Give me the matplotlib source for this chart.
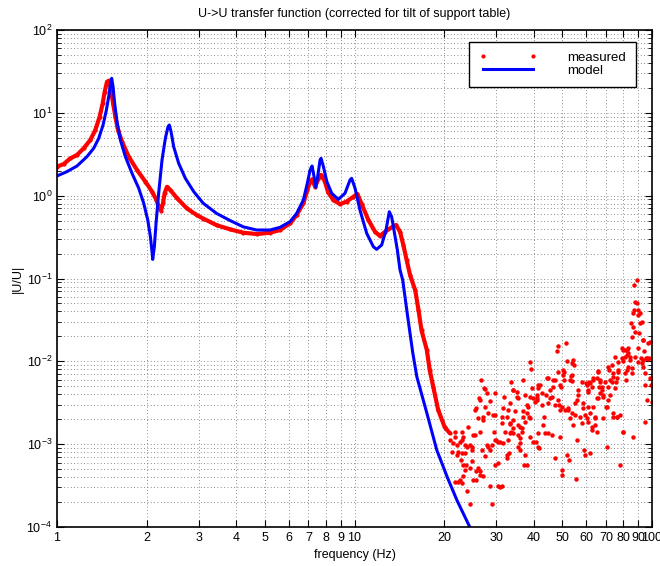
import numpy as np
import matplotlib
matplotlib.use("Agg")
import matplotlib.pyplot as plt
from matplotlib.ticker import FixedLocator, FixedFormatter, LogLocator, NullFormatter

plt.rcParams['font.family'] = ['Liberation Sans', 'DejaVu Sans']
plt.rcParams['mathtext.fontset'] = 'custom'
plt.rcParams['mathtext.rm'] = 'Liberation Sans'
plt.rcParams['mathtext.it'] = 'Liberation Sans:italic'
plt.rcParams['font.size'] = 9

# measured response, low-frequency part (dense, reads as a curve)
meas_freq = [1.0, 1.053, 1.109, 1.167, 1.229, 1.294, 1.345, 1.391, 1.424, 1.446,
             1.473, 1.50, 1.519, 1.543, 1.571, 1.603, 1.654, 1.741, 1.857, 1.981,
             2.086, 2.157, 2.196, 2.236, 2.271, 2.30, 2.343, 2.404, 2.532, 2.735,
             2.955, 3.10, 3.44, 3.82, 4.23, 4.69, 5.20, 5.62, 6.07, 6.39, 6.73,
             6.94, 7.09, 7.20, 7.37, 7.54, 7.72, 7.95, 8.15, 8.49, 8.94, 9.41,
             9.91, 10.22, 10.57, 11.13, 11.72, 12.18, 12.66, 13.33, 13.79, 14.22,
             14.59, 14.97, 15.37, 16.0, 16.4, 16.8, 17.5, 17.9, 18.4, 19.1, 20.1, 20.9]
meas_mag = [2.24, 2.41, 2.82, 3.10, 3.73, 4.70, 6.20, 8.99, 13.0, 18.0,
            23.8, 24.5, 18.9, 13.0, 8.99, 6.20, 4.49, 2.96, 2.04, 1.48,
            1.12, 0.89, 0.74, 0.66, 0.81, 1.07, 1.28, 1.17, 0.93, 0.70,
            0.58, 0.53, 0.44, 0.392, 0.357, 0.344, 0.357, 0.385, 0.463, 0.584, 0.81,
            1.17, 1.48, 1.57, 1.28, 1.57, 1.78, 1.48, 1.1, 0.886, 0.79, 0.85,
            0.97, 1.05, 0.79, 0.51, 0.367, 0.326, 0.367, 0.415, 0.442, 0.367,
            0.254, 0.167, 0.110, 0.072, 0.042, 0.0236, 0.0137, 0.0078, 0.0049, 0.0026, 0.0016, 0.00136]

# measured response above ~21 Hz (noise floor, scattered)
meas_scatter = [
    (21.8, 0.00141), (22.05, 0.00097), (22.3, 0.00081), (22.6, 0.00107), (22.8, 0.00064),
    (22.9, 0.00078), (23.2, 0.00123), (23.5, 0.00078), (23.7, 0.00056), (23.8, 0.00093),
    (24.1, 0.00163), (24.4, 0.00097), (24.4, 0.00051), (24.8, 0.00093), (21.8, 0.00035),
    (22.6, 0.00037), (22.9, 0.00034), (23.8, 0.00027), (24.4, 0.00019), (24.8, 0.00062),
    (25.1, 0.00037), (25.4, 0.00129), (25.7, 0.00037), (26.1, 0.00051), (26.4, 0.00047),
    (26.8, 0.00085), (27.1, 0.00041), (25.7, 0.00271), (26.1, 0.00205), (26.2, 0.00358),
    (26.6, 0.0060), (27.1, 0.00215), (27.2, 0.00473), (27.5, 0.00284), (27.8, 0.00097),
    (28.2, 0.00093), (28.5, 0.00031), (28.9, 0.00019), (28.9, 0.00097), (29.3, 0.00225),
    (29.5, 0.00141), (29.7, 0.00056), (30.0, 0.00112), (30.4, 0.00059), (30.4, 0.00031),
    (30.8, 0.00107), (31.2, 0.00031), (31.2, 0.00215), (31.6, 0.00102), (31.8, 0.00368),
    (32.0, 0.00141), (32.5, 0.00074), (32.9, 0.00259), (33.3, 0.00175), (33.7, 0.00141),
    (34.0, 0.00451), (34.2, 0.00135), (34.6, 0.00248), (35.1, 0.00375), (35.5, 0.0017),
    (36.0, 0.00102), (36.5, 0.00141), (36.7, 0.00248), (36.9, 0.00595), (37.2, 0.00056),
    (37.4, 0.00393), (37.9, 0.00236), (38.4, 0.00284), (38.6, 0.00211), (38.9, 0.0099),
    (39.2, 0.008), (39.4, 0.00473), (39.9, 0.00358), (40.4, 0.00326), (40.8, 0.00107),
    (41.0, 0.00393), (41.5, 0.00135), (41.7, 0.00089), (42.0, 0.00519), (42.6, 0.00297),
    (43.1, 0.0017), (43.5, 0.00215), (43.7, 0.00135), (44.0, 0.00393), (44.5, 0.00623),
    (44.8, 0.00135), (45.4, 0.00358), (46.0, 0.00129), (46.4, 0.00595), (46.6, 0.00495),
    (47.2, 0.00068), (47.8, 0.0133), (48.2, 0.0153), (48.4, 0.0075), (48.8, 0.00297),
    (49.1, 0.00123), (49.3, 0.00495), (49.7, 0.00049), (50.0, 0.00043), (50.3, 0.00786),
    (50.7, 0.00595), (51.0, 0.00259), (51.4, 0.0165), (51.7, 0.00074), (51.9, 0.0102),
    (52.3, 0.00259), (52.7, 0.00064), (53.0, 0.00595), (53.7, 0.00684), (54.0, 0.00946),
    (54.4, 0.0104), (55.1, 0.00311), (55.5, 0.000378), (55.8, 0.00112), (56.1, 0.00341),
    (56.5, 0.00393), (57.3, 0.00215), (58.0, 0.00569), (58.5, 0.00271), (58.8, 0.00311),
    (59.2, 0.00084), (59.5, 0.00074), (60.0, 0.00543), (60.3, 0.00205), (61.1, 0.00451),
    (61.5, 0.00569), (61.9, 0.00078), (62.7, 0.00163), (63.5, 0.00595), (64.3, 0.00215),
    (65.2, 0.00141), (65.7, 0.0076), (66.0, 0.00358), (66.5, 0.00495), (66.9, 0.00595),
    (67.7, 0.00451), (68.6, 0.00393), (69.5, 0.00569), (70.0, 0.00284), (70.4, 0.00093),
    (71.3, 0.00862), (71.9, 0.00786), (72.3, 0.00595), (73.2, 0.009), (73.8, 0.00215),
    (74.1, 0.00653), (75.1, 0.0114), (75.7, 0.00569), (76.5, 0.00215), (77.1, 0.0075),
    (78.1, 0.00056), (79.1, 0.0143), (79.7, 0.00141), (80.1, 0.0102), (81.1, 0.0137),
    (81.8, 0.00595), (82.2, 0.0119), (83.3, 0.0125), (84.3, 0.0104), (85.0, 0.0288),
    (86.1, 0.00123), (86.5, 0.038), (87.0, 0.0417), (87.6, 0.0228), (88.8, 0.0502),
    (89.3, 0.0959), (89.9, 0.0363), (90.6, 0.0218), (91.1, 0.0288), (91.6, 0.0109),
    (92.3, 0.0302), (93.0, 0.0181), (93.5, 0.00862), (94.0, 0.0135), (94.7, 0.00187),
    (95.4, 0.0109), (95.9, 0.0109), (97.2, 0.0165), (97.9, 0.0109), (98.5, 0.00623),
    (99.0, 0.0052), (99.7, 0.00326), (87.0, 0.083),
    (27.5, 0.0046), (27.8, 0.00411), (29.7, 0.00411), (28.5, 0.00335), (26.4, 0.00341),
    (25.4, 0.00259), (27.1, 0.00196), (28.2, 0.00236), (29.7, 0.00225), (31.6, 0.00271),
    (33.7, 0.00569), (34.2, 0.00451), (35.1, 0.00431), (35.5, 0.00358), (33.3, 0.00311),
    (32.5, 0.00211), (31.2, 0.00179), (33.3, 0.00182), (34.2, 0.00155), (36.0, 0.00163),
    (36.9, 0.00215), (37.9, 0.00297), (38.9, 0.00375), (41.5, 0.00519), (41.0, 0.00358),
    (38.9, 0.00205), (37.4, 0.00187), (35.5, 0.00129), (36.0, 0.00118), (33.3, 0.00135),
    (32.9, 0.00112), (33.1, 0.00078), (32.5, 0.00068), (29.7, 0.00112), (30.4, 0.00107),
    (28.5, 0.00085), (27.5, 0.00071), (26.4, 0.00141), (25.1, 0.00129), (22.9, 0.00141),
    (21.8, 0.00123), (22.9, 0.00112), (23.5, 0.00097), (20.9, 0.00112), (21.5, 0.00102),
    (21.2, 0.00081), (22.05, 0.00074), (24.8, 0.00085), (23.2, 0.00056), (23.5, 0.00049),
    (25.7, 0.00047), (26.4, 0.00043), (23.2, 0.00041), (22.3, 0.00035), (30.8, 0.0003),
    (37.9, 0.00056), (37.4, 0.00074), (36.0, 0.00085), (35.5, 0.00093), (41.5, 0.00093),
    (39.9, 0.00107), (38.9, 0.00123), (36.5, 0.00155), (34.2, 0.00196),
    (54.8, 0.00904), (50.7, 0.0075), (53.4, 0.00666), (50.3, 0.00684), (44.8, 0.00623),
    (47.2, 0.00595), (41.5, 0.00473), (49.1, 0.0052), (53.7, 0.00584), (56.5, 0.00451),
    (42.6, 0.00411), (45.4, 0.00451), (46.0, 0.00368), (44.8, 0.00311), (41.0, 0.00341),
    (48.4, 0.00341), (49.7, 0.00284), (47.2, 0.00297), (49.1, 0.00259), (52.3, 0.00271),
    (53.7, 0.00236), (53.0, 0.00205), (55.1, 0.00225), (54.1, 0.0017), (59.5, 0.00225),
    (60.3, 0.00519), (61.1, 0.00431), (61.9, 0.00543), (63.5, 0.00623), (62.7, 0.00495),
    (65.2, 0.00623), (66.0, 0.0075), (66.9, 0.00569), (67.7, 0.00495), (66.9, 0.00411),
    (68.6, 0.00375), (65.2, 0.00358), (63.5, 0.00284), (61.1, 0.00284), (61.9, 0.00236),
    (58.0, 0.00179), (61.1, 0.00187), (64.3, 0.00205), (64.3, 0.0017), (62.7, 0.00148),
    (68.6, 0.00205), (70.4, 0.00284), (71.3, 0.00341), (72.3, 0.00393), (71.3, 0.00495),
    (73.2, 0.00569), (75.1, 0.00473), (76.1, 0.00623), (74.1, 0.00716), (77.1, 0.00786),
    (77.1, 0.0099), (79.1, 0.0109), (80.1, 0.0137), (82.2, 0.0137), (83.3, 0.0143),
    (84.3, 0.0114), (81.1, 0.0114), (83.3, 0.00862), (81.1, 0.00716), (82.2, 0.00786),
    (85.4, 0.00823), (87.6, 0.0114), (89.9, 0.0143), (89.9, 0.0099), (93.5, 0.0104),
    (92.3, 0.00946), (97.2, 0.0107), (98.5, 0.0173), (93.5, 0.0181), (85.4, 0.0199),
    (86.5, 0.0262), (91.1, 0.038), (89.9, 0.0417), (87.6, 0.0527), (94.7, 0.0052),
    (99.7, 0.00623), (95.9, 0.00341), (94.7, 0.00716), (85.4, 0.00716), (76.1, 0.00215),
    (78.1, 0.00225), (74.1, 0.00236), (80.1, 0.00141),
]

# model transfer function
model_freq = [1.0, 1.08, 1.167, 1.261, 1.328, 1.381, 1.428, 1.465, 1.492, 1.511,
              1.527, 1.543, 1.562, 1.591, 1.633, 1.697, 1.787, 1.882, 1.956, 2.018,
              2.06, 2.086, 2.097, 2.124, 2.152, 2.196, 2.254, 2.313, 2.361, 2.385,
              2.417, 2.467, 2.564, 2.70, 2.88, 3.10, 3.44, 3.82, 4.23, 4.69, 5.20,
              5.62, 6.07, 6.39, 6.73, 6.94, 7.09, 7.20, 7.31, 7.41, 7.52, 7.66, 7.72,
              7.86, 8.07, 8.38, 8.82, 9.29, 9.66, 9.78, 10.04, 10.43, 10.99, 11.57,
              11.87, 12.34, 12.76, 13.09, 13.33, 13.57, 13.93, 14.22, 14.52, 15.1,
              15.7, 16.2, 17.5, 18.9, 20.5, 22.1, 24.4, 25.5]
model_mag = [1.73, 1.95, 2.28, 2.96, 3.73, 4.92, 7.13, 10.8, 15.7, 21.7,
             26.1, 20.7, 13.0, 7.8, 4.7, 2.96, 1.86, 1.23, 0.81, 0.51,
             0.32, 0.211, 0.170, 0.242, 0.463, 1.07, 2.70, 4.92, 6.81, 7.13,
             5.93, 3.90, 2.46, 1.62, 1.12, 0.81, 0.61, 0.50, 0.42, 0.385, 0.385,
             0.415, 0.485, 0.61, 0.886, 1.41, 2.04, 2.28, 1.70, 1.26, 1.70, 2.70, 2.82,
             2.24, 1.48, 1.07, 0.90, 1.07, 1.55, 1.62, 1.23, 0.67, 0.351, 0.242,
             0.225, 0.254, 0.385, 0.64, 0.557, 0.385, 0.221, 0.127, 0.0959, 0.034,
             0.0126, 0.0065, 0.00238, 0.00085, 0.0004, 0.00021, 0.0001, 0.00007]

xticks = [1, 2, 3, 4, 5, 6, 7, 8, 9, 10, 20, 30, 40, 50, 60, 70, 80, 90, 100]

sc = np.array(meas_scatter)

fig = plt.figure(figsize=(6.6, 5.66), dpi=100)
ax = fig.add_axes([0.0864, 0.0689, 0.9015, 0.8781])

# measured: dense part as thick dotted trace, then the scattered noise floor
ax.plot(meas_freq, meas_mag, '-', color='red', lw=3, solid_joinstyle='round',
        solid_capstyle='round')
ax.plot(meas_freq, meas_mag, 'o', color='red', ms=3, mew=0, label='measured')
ax.plot(sc[:, 0], sc[:, 1], 'o', color='red', ms=3.2, mew=0)
ax.plot(model_freq, model_mag, '-', color='blue', lw=2.2, solid_joinstyle='round',
        label='model')

ax.set_xscale('log')
ax.set_yscale('log')
ax.set_xlim(1, 100)
ax.set_ylim(1e-4, 1e2)

ax.xaxis.set_major_locator(FixedLocator(xticks))
ax.xaxis.set_major_formatter(FixedFormatter([str(t) for t in xticks]))
ax.xaxis.set_minor_locator(FixedLocator([]))
ax.yaxis.set_major_locator(LogLocator(base=10, numticks=10))
ax.yaxis.set_minor_locator(LogLocator(base=10, subs=np.arange(2, 10), numticks=10))
ax.yaxis.set_minor_formatter(NullFormatter())

ax.tick_params(which='both', direction='in', top=True, right=True, labelsize=9)
ax.tick_params(which='major', length=5, width=0.8)
ax.tick_params(which='minor', length=3, width=0.6)
ax.grid(True, which='both', linestyle=(0, (1, 3)), color='0.4', linewidth=0.6)
for s in ax.spines.values():
    s.set_linewidth(1.2)

ax.set_title('U->U transfer function (corrected for tilt of support table)',
             fontsize=9, pad=9)
ax.set_xlabel('frequency (Hz)', fontsize=9, labelpad=4)
ax.set_ylabel('|U/U|', fontsize=9, labelpad=2)

handles, labels = ax.get_legend_handles_labels()
leg = ax.legend(handles, labels, loc='upper right', bbox_to_anchor=(0.973, 0.976),
                borderaxespad=0, fancybox=False, framealpha=1, edgecolor='black',
                fontsize=9.5, numpoints=2, handlelength=4.4, handletextpad=2.3,
                labelspacing=0.05, borderpad=0.75)
leg.get_frame().set_linewidth(1.0)

fig.savefig('out.png', dpi=100)
